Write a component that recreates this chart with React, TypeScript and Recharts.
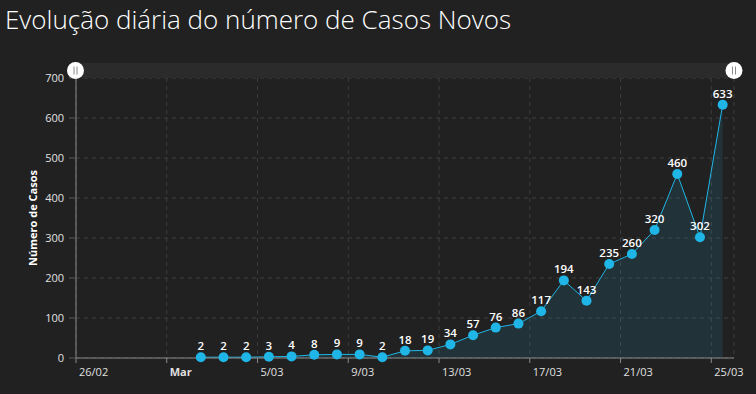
import React from 'react';
import { ComposedChart, Area, XAxis, YAxis, CartesianGrid, LabelList } from 'recharts';

const marchDays = [2, 3, 4, 5, 6, 7, 8, 9, 10, 11, 12, 13, 14, 15, 16, 17, 18, 19, 20, 21, 22, 23, 24, 25];
const newCases = [2, 2, 2, 3, 4, 8, 9, 9, 2, 18, 19, 34, 57, 76, 86, 117, 194, 143, 235, 260, 320, 460, 302, 633];
const xTickDays = [0, 4, 8, 12, 16, 20, 24, 28];
const xTickLabels = ['26/02', 'Mar', '5/03', '9/03', '13/03', '17/03', '21/03', '25/03'];
const yTicks = [0, 100, 200, 300, 400, 500, 600, 700];

const START = Date.UTC(2020, 1, 26);
const DAY = 86400000;
const data = marchDays.map((d, i) => ({
  t: (Date.UTC(2020, 2, d) - START) / DAY + 0.5,
  casos: newCases[i],
}));

const FONT = '"Open Sans", "Noto Sans", sans-serif';
const LINE = '#1fb5e6';

const XTick = (props: any) => {
  const { x, y, payload } = props;
  const idx = xTickDays.indexOf(payload.value);
  const label = idx >= 0 ? xTickLabels[idx] : '';
  return (
    <text
      x={x + 3}
      y={y + 11}
      fill="#e0e0e0"
      fontSize={11}
      fontFamily={FONT}
      fontWeight={label === 'Mar' ? 700 : 400}
      textAnchor="start"
    >
      {label}
    </text>
  );
};

const Dot = (props: any) => {
  const { cx, cy, index } = props;
  if (cx == null || cy == null) return <g key={`d${index}`} />;
  return <circle key={`d${index}`} cx={cx} cy={cy} r={5} fill={LINE} />;
};

const Grip = ({ cx, cy }: { cx: number; cy: number }) => (
  <g>
    <circle cx={cx} cy={cy} r={8.5} fill="#ffffff" />
    <line x1={cx - 1.5} y1={cy - 4} x2={cx - 1.5} y2={cy + 4} stroke="#8a8a8a" strokeWidth={1} />
    <line x1={cx + 1.5} y1={cy - 4} x2={cx + 1.5} y2={cy + 4} stroke="#8a8a8a" strokeWidth={1} />
  </g>
);

export default function App() {
  return (
    <div
      style={{
        position: 'fixed',
        left: 0,
        top: 0,
        width: 756,
        height: 394,
        background: '#212121',
        overflow: 'hidden',
      }}
    >
      <ComposedChart
        width={756}
        height={394}
        data={data}
        margin={{ top: 78, right: 22, bottom: 0, left: 0 }}
      >
        <CartesianGrid stroke="#3e3e3e" strokeDasharray="4 4" />
        <XAxis
          type="number"
          dataKey="t"
          domain={[0, 29]}
          ticks={xTickDays}
          tick={<XTick />}
          tickSize={5}
          tickLine={{ stroke: '#8a8a8a' }}
          axisLine={{ stroke: '#8a8a8a' }}
          height={36}
          interval={0}
          allowDataOverflow
        />
        <YAxis
          type="number"
          domain={[0, 700]}
          ticks={yTicks}
          width={76}
          tickSize={7}
          tickMargin={5}
          tick={{ fill: '#e0e0e0', fontSize: 11, fontFamily: FONT }}
          tickLine={{ stroke: '#5a5a5a' }}
          axisLine={{ stroke: '#8a8a8a' }}
          interval={0}
        />
        <Area
          type="linear"
          dataKey="casos"
          stroke={LINE}
          strokeWidth={1}
          fill={LINE}
          fillOpacity={0.12}
          dot={Dot}
          activeDot={false}
          isAnimationActive={false}
        >
          <LabelList
            dataKey="casos"
            position="top"
            offset={7}
            fill="#ffffff"
            fontSize={11.5}
            fontWeight={600}
            fontFamily={FONT}
          />
        </Area>
      </ComposedChart>
      <svg
        width={756}
        height={394}
        style={{ position: 'absolute', left: 0, top: 0, pointerEvents: 'none' }}
      >
        <text x={5} y={29} fill="#ffffff" fontSize={26} fontWeight={300} fontFamily={FONT}>
          Evolução diária do número de Casos Novos
        </text>
        <rect x={76} y={63} width={658} height={15} fill="#2b2b2b" />
        <Grip cx={75.5} cy={70.5} />
        <Grip cx={734} cy={70.5} />
        <text
          transform="translate(32,218) rotate(-90)"
          textAnchor="middle"
          dominantBaseline="central"
          fill="#ffffff"
          fontSize={11}
          fontWeight={700}
          fontFamily={FONT}
        >
          Número de Casos
        </text>
      </svg>
    </div>
  );
}
